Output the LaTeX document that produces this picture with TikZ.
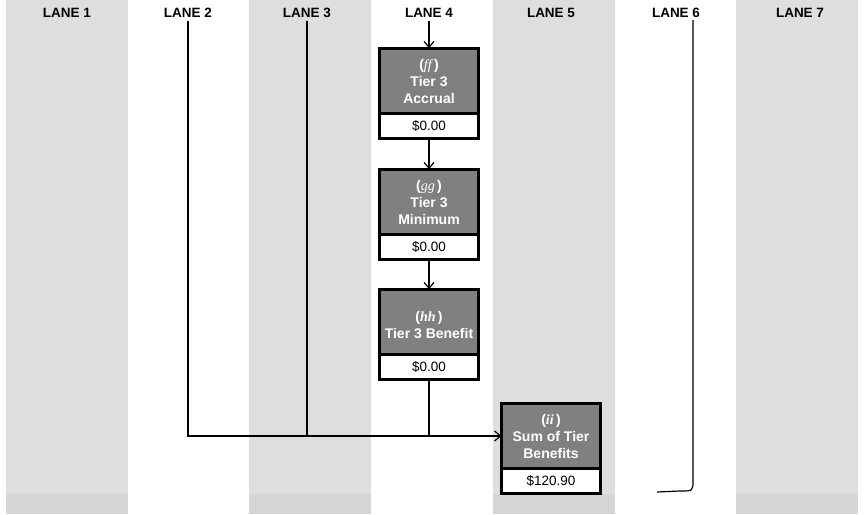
\documentclass[tikz,border=0pt]{standalone}
\usepackage{fontspec}
\setmainfont{Liberation Sans}
\newfontfamily\tierserif{Liberation Serif}
\usetikzlibrary{arrows.meta,positioning}
\definecolor{lanefill}{HTML}{DEDEDE}
\definecolor{lanefoot}{HTML}{D5D5D5}
\definecolor{tiergrey}{HTML}{808080}
\tikzset{
  lanelabel/.style={font=\fontsize{13.5}{16}\selectfont\bfseries},
  tierhead/.style={draw, line width=3pt, fill=tiergrey, text=white, align=center,
    minimum width=99pt, minimum height=65.5pt, outer sep=0pt, inner sep=2pt,
    font=\fontsize{14}{17}\selectfont\bfseries},
  tierval/.style={draw, line width=3pt, fill=white, minimum width=99pt,
    minimum height=24.5pt, outer sep=0pt, font=\fontsize{13.5}{16}\selectfont},
  arr/.style={-{Straight Barb[length=6pt,width=10pt]}, line width=1.2pt},
  link/.style={line width=1.2pt}
}
\newcommand{\tiertag}[1]{{\tierserif\itshape #1}\,}
\begin{document}
\begin{tikzpicture}[x=1pt,y=-1pt]
\useasboundingbox (0,0) rectangle (867,514);
\foreach \i in {0,2,4,6} {
  \fill[lanefill] ({6+121.7*\i},0) rectangle ++(121.7,494);
  \fill[lanefoot] ({6+121.7*\i},494) rectangle ++(121.7,20);
}
\node[lanelabel] (lane1) at (67,12.5) {LANE 1};
\node[lanelabel] (lane2) at (188,12.5) {LANE 2};
\node[lanelabel] (lane3) at (307,12.5) {LANE 3};
\node[lanelabel] (lane4) at (429,12.5) {LANE 4};
\node[lanelabel] (lane5) at (551,12.5) {LANE 5};
\node[lanelabel] (lane6) at (676,12.5) {LANE 6};
\node[lanelabel] (lane7) at (800,12.5) {LANE 7};

\node[tierhead] (ffhead) at (429,81) {({\mdseries\tiertag{ff}})\\Tier 3\\Accrual};
\node[tierval, below=0pt of ffhead] (ffval) {\$0.00};
\node[tierhead] (gghead) at (429,202) {({\mdseries\tiertag{gg}})\\Tier 3\\Minimum};
\node[tierval, below=0pt of gghead] (ggval) {\$0.00};
\node[tierhead] (hhhead) at (429,322) {\mbox{}\\(\tiertag{hh})\\Tier 3 Benefit};
\node[tierval, below=0pt of hhhead] (hhval) {\$0.00};
\node[tierhead] (iihead) at (551,436) {(\tiertag{ii})\\Sum of Tier\\Benefits};
\node[tierval, below=0pt of iihead] (iival) {\$120.90};

\coordinate (l6top) at (693,20);
\coordinate (l6end) at (657,492);

\draw[arr] (lane4) -- (ffhead);
\draw[arr] (ffval) -- (gghead);
\draw[arr] (ggval) -- (hhhead);
\draw[arr] (lane2) |- (iihead);
\draw[link] (lane3) -- (lane3 |- iihead.west);
\draw[link] (hhval) -- (hhval |- iihead.west);
\draw[link] (l6top) -- (693,480) .. controls (693,491) .. (680,491) -- (l6end);
\end{tikzpicture}
\end{document}
